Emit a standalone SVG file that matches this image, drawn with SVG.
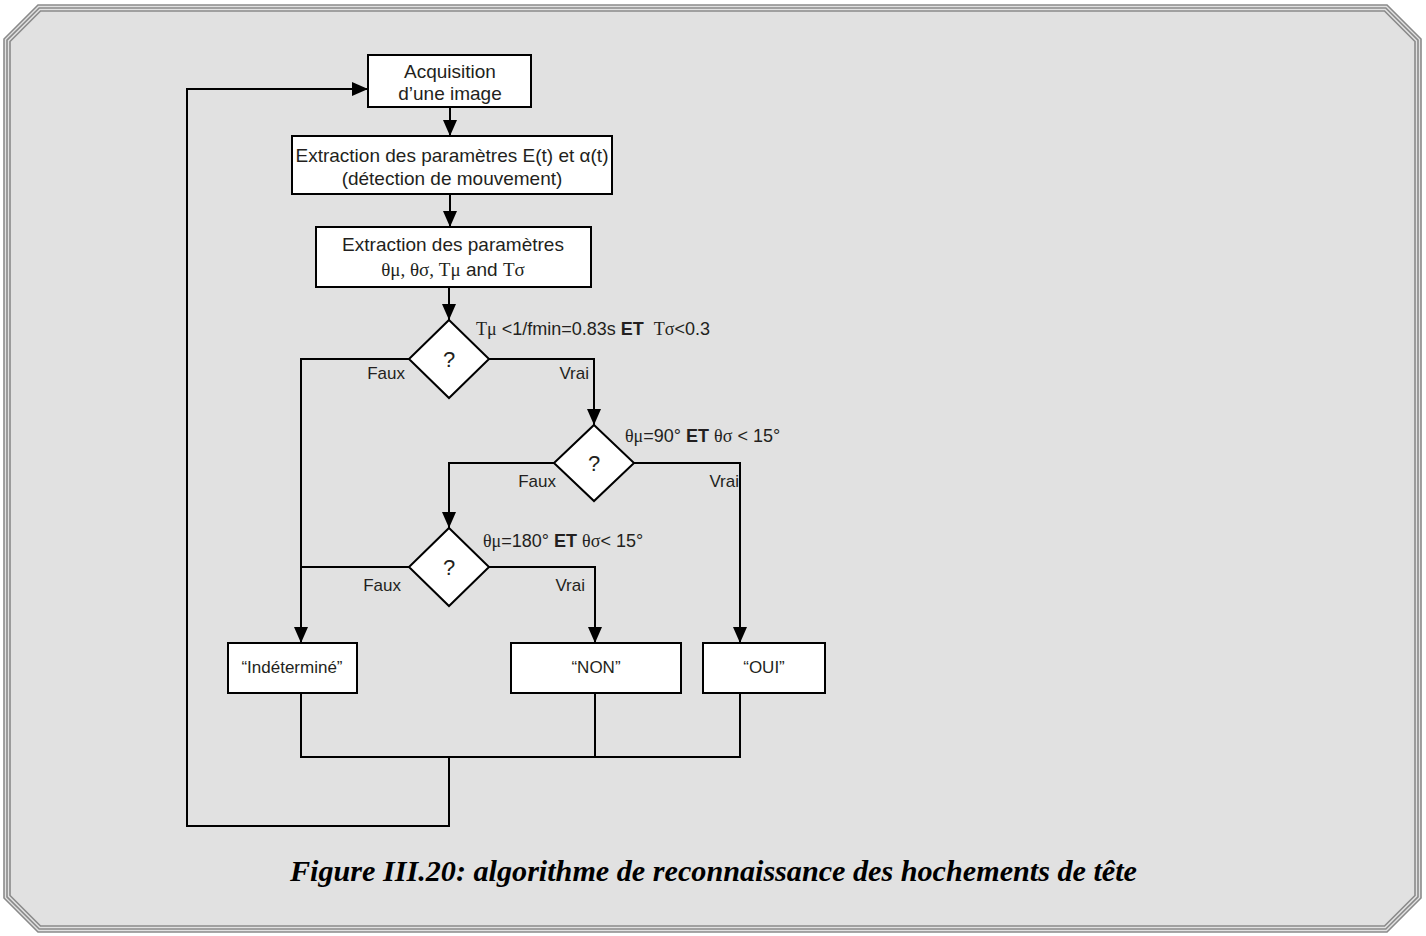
<svg xmlns="http://www.w3.org/2000/svg" width="1426" height="936" viewBox="0 0 1426 936">
<defs>
<style>
.frame{fill:none;stroke:#8a8a8a;stroke-width:1.6}
.box{fill:#fff;stroke:#000;stroke-width:2}
.conn{fill:none;stroke:#000;stroke-width:2}
.t{font-family:"Liberation Sans",Arial,sans-serif;fill:#231f20}
.bt{font-size:19px;text-anchor:middle}
.lb{font-size:17px;text-anchor:end}
.cd{font-size:18px;white-space:pre}
.q{font-size:22px;text-anchor:middle}
.s{font-family:"Liberation Serif","Times New Roman",serif}
.b{font-weight:bold}
.cap{font-family:"Liberation Serif","Times New Roman",serif;font-weight:bold;font-style:italic;font-size:29px;fill:#000}
</style>
<marker id="ah" viewBox="0 0 16 14" refX="16" refY="7" markerWidth="16" markerHeight="14" markerUnits="userSpaceOnUse" orient="auto">
<path d="M0,0 L16,7 L0,14 Z" fill="#000"/>
</marker>
</defs>
<rect width="1426" height="936" fill="#fff"/>
<g id="frame">
<polygon points="38,5 1387,5 1421,39 1421,898 1387,932 38,932 4,898 4,39" fill="#e1e1e1" stroke="#8a8a8a" stroke-width="1.6"/>
<polygon class="frame" points="39.2,8 1385.8,8 1418,40.2 1418,896.8 1385.8,929 39.2,929 7,896.8 7,40.2"/>
<polygon class="frame" points="40.5,11 1384.5,11 1415,41.5 1415,895.5 1384.5,926 40.5,926 10,895.5 10,41.5"/>
</g>
<g id="connectors">
<line class="conn" x1="450" y1="107" x2="450" y2="136" marker-end="url(#ah)"/>
<line class="conn" x1="450" y1="194" x2="450" y2="227" marker-end="url(#ah)"/>
<line class="conn" x1="449" y1="287" x2="449" y2="320" marker-end="url(#ah)"/>
<polyline class="conn" points="489,359 594,359 594,425" marker-end="url(#ah)"/>
<polyline class="conn" points="409,359 301,359 301,643" marker-end="url(#ah)"/>
<polyline class="conn" points="634,463 740,463 740,643" marker-end="url(#ah)"/>
<polyline class="conn" points="554,463 449,463 449,528" marker-end="url(#ah)"/>
<line class="conn" x1="409" y1="567" x2="301" y2="567"/>
<polyline class="conn" points="489,567 595,567 595,643" marker-end="url(#ah)"/>
<line class="conn" x1="301" y1="693" x2="301" y2="757"/>
<line class="conn" x1="595" y1="693" x2="595" y2="757"/>
<line class="conn" x1="740" y1="693" x2="740" y2="757"/>
<line class="conn" x1="300" y1="757" x2="741" y2="757"/>
<polyline class="conn" points="449,757 449,826 187,826 187,89 368,89" marker-end="url(#ah)"/>
</g>
<g id="n-acquisition">
<rect class="box" x="368" y="55" width="163" height="52"/>
<text class="t bt" x="450" y="78">Acquisition</text>
<text class="t bt" x="450" y="100">d’une image</text>
</g>
<g id="n-extraction1">
<rect class="box" x="292" y="136" width="320" height="58"/>
<text class="t bt" x="452" y="162">Extraction des paramètres E(t) et α(t)</text>
<text class="t bt" x="452" y="185">(détection de mouvement)</text>
</g>
<g id="n-extraction2">
<rect class="box" x="316" y="227" width="275" height="60"/>
<text class="t bt" x="453" y="251">Extraction des paramètres</text>
<text class="t bt" x="453" y="276"><tspan class="s">θμ,  θσ,  Tμ</tspan> and <tspan class="s">Tσ</tspan></text>
</g>
<g id="n-d1">
<polygon class="box" points="449,320 489,359 449,398 409,359"/>
<text class="t q" x="449" y="367">?</text>
<text class="t cd" x="476" y="335"><tspan class="s">Tμ</tspan> &lt;1/fmin=0.83s <tspan class="b">ET</tspan>  <tspan class="s">Tσ</tspan>&lt;0.3</text>
<text class="t lb" x="405" y="379">Faux</text>
<text class="t lb" x="589" y="379">Vrai</text>
</g>
<g id="n-d2">
<polygon class="box" points="594,425 634,463 594,501 554,463"/>
<text class="t q" x="594" y="471">?</text>
<text class="t cd" x="625" y="442"><tspan class="s">θμ</tspan>=90° <tspan class="b">ET</tspan> <tspan class="s">θσ</tspan> &lt; 15°</text>
<text class="t lb" x="556" y="487">Faux</text>
<text class="t lb" x="739" y="487">Vrai</text>
</g>
<g id="n-d3">
<polygon class="box" points="449,528 489,567 449,606 409,567"/>
<text class="t q" x="449" y="575">?</text>
<text class="t cd" x="483" y="547"><tspan class="s">θμ</tspan>=180° <tspan class="b">ET</tspan> <tspan class="s">θσ</tspan>&lt; 15°</text>
<text class="t lb" x="401" y="591">Faux</text>
<text class="t lb" x="585" y="591">Vrai</text>
</g>
<g id="n-indetermine">
<rect class="box" x="228" y="643" width="129" height="50"/>
<text class="t bt" x="292" y="673" style="font-size:17px">“Indéterminé”</text>
</g>
<g id="n-non">
<rect class="box" x="511" y="643" width="170" height="50"/>
<text class="t bt" x="596" y="673" style="font-size:17px">“NON”</text>
</g>
<g id="n-oui">
<rect class="box" x="703" y="643" width="122" height="50"/>
<text class="t bt" x="764" y="673" style="font-size:17px">“OUI”</text>
</g>
<text class="cap" x="290" y="881" textLength="847" lengthAdjust="spacingAndGlyphs">Figure III.20: algorithme de reconnaissance des hochements de tête</text>
</svg>
